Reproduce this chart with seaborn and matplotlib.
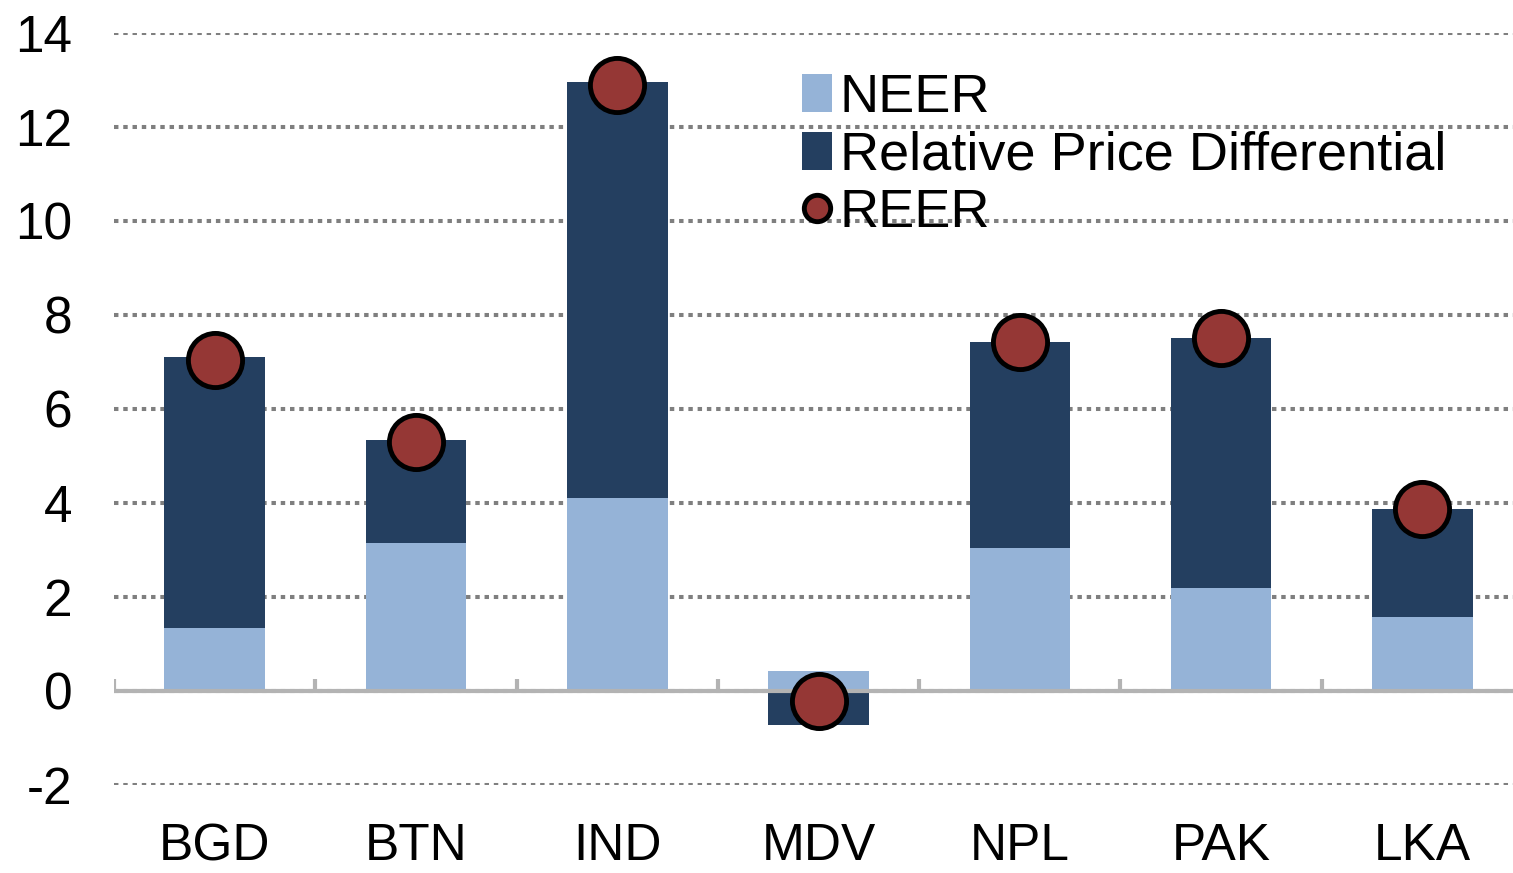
import numpy as np
import pandas as pd
import seaborn as sns
import matplotlib.pyplot as plt
from matplotlib.patches import Patch
from matplotlib.lines import Line2D

# data
countries = ['BGD', 'BTN', 'IND', 'MDV', 'NPL', 'PAK', 'LKA']
neer = [1.35, 3.15, 4.10, 0.43, 3.05, 2.20, 1.57]
rel_price = [5.75, 2.20, 8.85, -0.72, 4.37, 5.32, 2.30]
reer = [7.05, 5.30, 12.90, -0.22, 7.42, 7.52, 3.88]
yticks = [-2, 0, 2, 4, 6, 8, 10, 12, 14]

c_neer = '#95B3D7'
c_rpd = '#243F60'
c_reer = '#953735'

sns.set_style('white')
plt.rcParams['font.family'] = ['Liberation Sans', 'DejaVu Sans']

df = pd.DataFrame({'country': countries, 'neer': neer, 'rpd': rel_price, 'reer': reer})
# dark bar: stacked on top of NEER when positive, hanging from 0 when negative
df['top'] = np.where(df['rpd'] > 0, df['neer'] + df['rpd'], df['rpd'])

fig = plt.figure(figsize=(15.13, 8.73), dpi=100)
ax = fig.add_axes([114 / 1513, 1 - 785 / 873, 1 - 114 / 1513, (785 - 33) / 873])

sns.barplot(data=df, x='country', y='top', color=c_rpd, saturation=1, width=0.5,
            errorbar=None, linewidth=0, ax=ax, zorder=2)
sns.barplot(data=df, x='country', y='neer', color=c_neer, saturation=1, width=0.5,
            errorbar=None, linewidth=0, ax=ax, zorder=2)
sns.stripplot(data=df, x='country', y='reer', jitter=False, size=39, color=c_reer,
              edgecolor='black', linewidth=3.5, ax=ax, zorder=5)

# zero line with little ticks between the categories
n = len(countries)
ax.axhline(0, color='#b3b3b3', lw=3, zorder=3)
ax.vlines(np.arange(n + 1) - 0.5, 0, 0.26, color='#b3b3b3', lw=3, zorder=3)

ax.set_xlim(-0.5, 6.45)
ax.set_ylim(-2, 14)
ax.set_yticks(yticks)
ax.set_yticklabels([str(t) for t in yticks])
ax.yaxis.grid(True, color='#7f7f7f', linewidth=2.9, linestyle=(0, (1.1, 1.2)))
ax.set_axisbelow(True)
ax.tick_params(axis='y', length=0, pad=30, labelsize=37, labelcolor='black')
ax.tick_params(axis='x', length=0, pad=27, labelsize=37, labelcolor='black')
ax.set_xlabel('')
ax.set_ylabel('')
sns.despine(ax=ax, left=True, bottom=True)

handles = [
    Patch(facecolor=c_neer, edgecolor='none', label='NEER'),
    Patch(facecolor=c_rpd, edgecolor='none', label='Relative Price Differential'),
    Line2D([], [], marker='o', linestyle='none', markersize=19, markerfacecolor=c_reer,
           markeredgecolor='black', markeredgewidth=3.5, label='REER'),
]
fig.legend(handles=handles, loc='upper left', bbox_to_anchor=(802 / 1513, 1 - 73 / 873),
           frameon=False, fontsize=39, handlelength=0.55, handleheight=0.7,
           handletextpad=0.15, labelspacing=0.14, borderpad=0, borderaxespad=0,
           labelcolor='black')

fig.savefig('out.png', dpi=100)
